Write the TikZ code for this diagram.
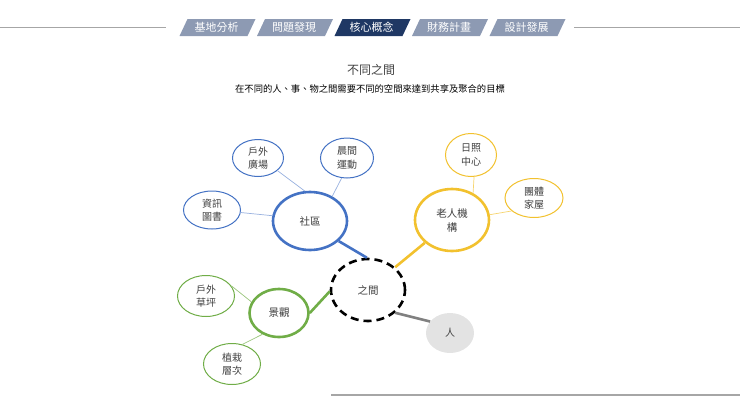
\documentclass[tikz,border=0pt]{standalone}
\usepackage{fontspec}
\newfontfamily\cjk{Noto Sans CJK TC}
\usetikzlibrary{shapes.geometric}
\definecolor{tabgray}{HTML}{8D9AB3}
\definecolor{tabnavy}{HTML}{1F3864}
\definecolor{myblue}{HTML}{4472C4}
\definecolor{myyellow}{HTML}{F2C12E}
\definecolor{mygreen}{HTML}{70AD47}
\definecolor{txt}{HTML}{404040}
\definecolor{rulegray}{HTML}{A6A6A6}
\definecolor{pgray}{HTML}{E3E3E3}
\tikzset{
  bub/.style={ellipse, inner sep=0pt, align=center, text=txt, font=\cjk\fontsize{10}{13.5}\selectfont, fill=white},
  big/.style={bub, line width=2.6pt, font=\cjk\fontsize{10.5}{14}\selectfont},
  small/.style={bub, line width=1pt},
  thinl/.style={line width=0.7pt},
  thickl/.style={line width=2.6pt},
  tabtxt/.style={text=white, font=\cjk\fontsize{11}{12}\selectfont, inner sep=0pt},
}
\begin{document}
\begin{tikzpicture}[x=1pt,y=-1pt]
\useasboundingbox (0,0) rectangle (740,416);
% header rules
\coordinate (hl0) at (0,27.5); \coordinate (hl1) at (166,27.5);
\coordinate (hr0) at (574,27.5); \coordinate (hr1) at (740,27.5);
\draw[rulegray, line width=1.2pt] (hl0) -- (hl1);
\draw[rulegray, line width=1.2pt] (hr0) -- (hr1);
\coordinate (bl0) at (331,395); \coordinate (bl1) at (740,395);
\draw[rulegray, line width=1.2pt] (bl0) -- (bl1);
% tabs
\foreach \i/\t/\c in {0/基地分析/tabgray,1/問題發現/tabgray,2/核心概念/tabnavy,3/財務計畫/tabgray,4/設計發展/tabgray}{
  \pgfmathsetmacro{\xo}{179.5+77.5*\i}
  \fill[\c] (\xo,36) -- (\xo+68,36) -- (\xo+76,19) -- (\xo+8,19) -- cycle;
  \node[tabtxt] (tab\i) at (\xo+37,27.5) {\t};
}
% titles
\node[text=txt, font=\cjk\fontsize{12}{13}\selectfont, inner sep=0pt] (title) at (371,70) {不同之間};
\node[text=black, font=\cjk\fontsize{9.3}{11}\selectfont, inner sep=0pt] (sub) at (370,89) {在不同的人、事、物之間需要不同的空間來達到共享及聚合的目標};
% main nodes
\node[big, draw=myblue, minimum width=74pt, minimum height=58pt] (sq) at (310,221) {社區};
\node[big, draw=myyellow, minimum width=74pt, minimum height=62pt] (old) at (452,220) {老人機\\構};
\node[big, draw=black, dash pattern=on 8pt off 5pt, minimum width=74pt, minimum height=62pt] (mid) at (368,290) {之間};
\node[big, draw=mygreen, minimum width=59pt, minimum height=48pt] (land) at (279,313) {景觀};
\node[bub, fill=pgray, minimum width=48pt, minimum height=40pt] (ren) at (450,333) {人};
% satellites
\node[small, draw=myblue, minimum width=51pt, minimum height=37pt] (gc) at (258,158) {戶外\\廣場};
\node[small, draw=myblue, minimum width=53pt, minimum height=40pt] (mx) at (347,158) {晨間\\運動};
\node[small, draw=myblue, minimum width=57pt, minimum height=38pt] (lib) at (212,210) {資訊\\圖書};
\node[small, draw=myyellow, minimum width=51pt, minimum height=43pt] (day) at (471,155) {日照\\中心};
\node[small, draw=myyellow, minimum width=58pt, minimum height=39pt] (grp) at (534,198) {團體\\家屋};
\node[small, draw=mygreen, minimum width=57pt, minimum height=41pt] (lawn) at (206,296) {戶外\\草坪};
\node[small, draw=mygreen, minimum width=57pt, minimum height=41pt] (plant) at (232,364) {植栽\\層次};
% connectors
\draw[thinl, myblue!55] (gc.-33) -- (sq.100);
\draw[thinl, myblue!55] (mx.-105) -- (sq.48);
\draw[thinl, myblue!55] (lib.-5) -- (sq.172);
\draw[thinl, myyellow!70] (day.-82) -- (old.52);
\draw[thinl, myyellow!70] (grp.-150) -- (old.8);
\draw[thinl, mygreen!70] (lawn.22) -- (land.158);
\draw[thinl, mygreen!70] (plant.62) -- (land.232);
\draw[thickl, myblue] (sq.-35) -- (mid.92);
\draw[thickl, myyellow] (old.-140) -- (mid.40);
\draw[thickl, mygreen] (land.0) -- (mid.182);
\draw[thickl, gray] (mid.-40) -- (ren.150);
\end{tikzpicture}
\end{document}
